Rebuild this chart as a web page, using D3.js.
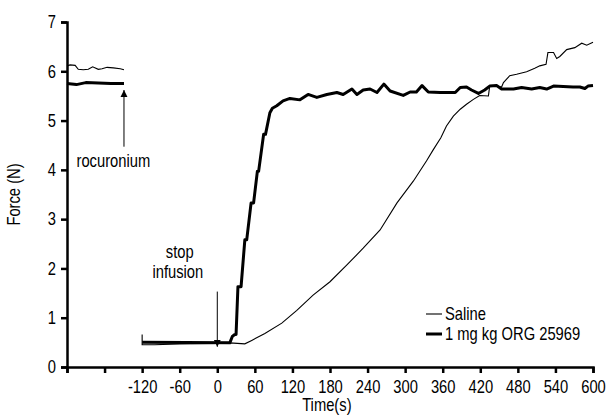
<!DOCTYPE html>
<html>
<head>
<meta charset="utf-8">
<script src="https://cdn.jsdelivr.net/npm/d3@7"></script>
<style>
  body { margin: 0; background: #fff; }
  text { font-family: "Liberation Sans", Arial, sans-serif; fill: #000; }
</style>
</head>
<body>
<div id="chart"></div>
<script>
// readings from the trace (time in s, force in N)
var salineBefore = [[-240,6.11],[-235,6.13],[-227,6.12],[-222,6.04],[-214,6.03],[-206,6.04],[-199,6.09],
  [-190,6.04],[-184,6.05],[-176,6.08],[-166,6.07],[-155,6.05],[-149,6.03]]
var orgBefore = [[-240,5.75],[-225,5.73],[-210,5.77],[-190,5.76],[-170,5.75],[-149,5.75]]

var saline = [[-120,0.66],[-120,0.45],[-100,0.45],[-60,0.47],[0,0.48],[20,0.49],[44,0.47],[55,0.54],
  [76,0.68],[103,0.89],[127,1.15],[153,1.46],[180,1.73],[207,2.07],[233,2.41],[260,2.78],[287,3.33],
  [313,3.77],[334,4.18],[345,4.41],[357,4.65],[366,4.89],[377,5.09],[388,5.23],[398,5.33],[409,5.43],
  [419,5.51],[433,5.50],[435,5.70],[446,5.70],[454,5.68],[457,5.77],[467,5.91],[478,5.94],[494,5.99],
  [507,6.06],[515,6.11],[525,6.14],[528,6.38],[537,6.38],[542,6.26],[547,6.30],[558,6.44],[571,6.48],
  [582,6.57],[590,6.53],[600,6.59]]

var org = [[-120,0.50],[20,0.49],[24,0.62],[28,0.66],[30,0.66],[33,1.63],[38,1.63],[44,2.58],[47,2.58],
  [54,3.33],[58,3.33],[64,3.97],[66,3.97],[74,4.72],[77,4.72],[84,5.16],[88,5.25],[95,5.30],[105,5.40],
  [116,5.45],[132,5.42],[145,5.53],[159,5.47],[175,5.53],[191,5.57],[201,5.53],[215,5.64],[223,5.53],
  [233,5.62],[244,5.64],[255,5.57],[266,5.74],[276,5.60],[297,5.51],[308,5.58],[318,5.58],[327,5.71],
  [337,5.58],[356,5.57],[380,5.57],[388,5.67],[398,5.68],[406,5.62],[417,5.55],[427,5.62],[435,5.70],
  [446,5.71],[454,5.64],[473,5.64],[486,5.67],[502,5.64],[515,5.67],[526,5.64],[537,5.70],[568,5.68],
  [579,5.68],[587,5.65],[592,5.70],[600,5.71]]

var xTicks = d3.range(-240, 601, 60)
var yTicks = [0, 1, 2, 3, 4, 5, 6, 7]

var margin = {top: 22, right: 14, bottom: 52, left: 67},
    width = 607 - margin.left - margin.right,
    height = 419 - margin.top - margin.bottom;

// the original uses a condensed face; squeeze the regular one
var FS = 18, SQ = 0.82;

var svg = d3.select("#chart").append("svg")
    .attr("width", 607)
    .attr("height", 419)
  .append("g")
    .attr("transform", "translate(" + margin.left + "," + margin.top + ")");

var x = d3.scaleLinear().domain([-240, 600]).range([0, width]);
var y = d3.scaleLinear().domain([0, 7]).range([height, 0]);

var line = d3.line().x(d => x(d[0])).y(d => y(d[1]));

function label(parent, px, py, txt, anchor, rot) {
  return parent.append("text")
    .attr("transform", "translate(" + px + "," + py + ")" + (rot ? " rotate(" + rot + ")" : "") + " scale(" + SQ + ",1)")
    .attr("text-anchor", anchor || "middle")
    .style("font-size", FS + "px")
    .text(txt);
}

// arrow head
svg.append("defs").append("marker")
    .attr("id", "head")
    .attr("viewBox", "0 0 10 10")
    .attr("refX", 10).attr("refY", 5)
    .attr("markerWidth", 7).attr("markerHeight", 8)
    .attr("markerUnits", "userSpaceOnUse")
    .attr("orient", "auto")
  .append("path")
    .attr("d", "M0,0 L10,5 L0,10 z")
    .attr("fill", "#000");

// thin traces (saline)
[salineBefore, saline].forEach(function(s) {
  svg.append("path").datum(s)
    .attr("d", line)
    .attr("fill", "none")
    .attr("stroke", "#000")
    .attr("stroke-width", 1.1);
});

// thick traces (ORG 25969)
[orgBefore, org].forEach(function(s) {
  svg.append("path").datum(s)
    .attr("d", line)
    .attr("fill", "none")
    .attr("stroke", "#000")
    .attr("stroke-width", 3)
    .attr("stroke-linejoin", "round");
});

// axes
var xAxis = svg.append("g")
    .attr("transform", "translate(0," + height + ")")
    .call(d3.axisBottom(x).tickValues(xTicks).tickSize(6).tickPadding(7)
      .tickFormat(d => d < -120 ? "" : d));
var yAxis = svg.append("g")
    .call(d3.axisLeft(y).tickValues(yTicks).tickSize(6).tickPadding(5).tickFormat(d3.format("d")));

[xAxis, yAxis].forEach(function(a) {
  a.select(".domain").attr("stroke-width", 2.5);
  a.selectAll(".tick line").attr("stroke-width", 2.5);
  a.selectAll("text")
    .attr("font-family", null)
    .style("font-size", FS + "px")
    .attr("x", function() { return (+d3.select(this).attr("x") || 0) / SQ; })
    .attr("transform", "scale(" + SQ + ",1)");
});

label(svg, x(175), height + 44, "Time(s)");
label(svg, -47, y(3.5), "Force (N)", "middle", -90);

// annotations
svg.append("line")
    .attr("x1", x(-149)).attr("x2", x(-149))
    .attr("y1", y(4.47)).attr("y2", y(5.62))
    .attr("stroke", "#000").attr("stroke-width", 1)
    .attr("marker-end", "url(#head)");
label(svg, x(-166), y(4.05), "rocuronium");

svg.append("line")
    .attr("x1", x(0)).attr("x2", x(0))
    .attr("y1", y(1.53)).attr("y2", y(0.41))
    .attr("stroke", "#000").attr("stroke-width", 1)
    .attr("marker-end", "url(#head)");
label(svg, x(-60), y(2.22), "stop");
label(svg, x(-63), y(1.8), "infusion");

// legend
var legend = svg.append("g").attr("transform", "translate(" + (426 - margin.left) + "," + (314 - margin.top) + ")");
[["Saline", 1.1], ["1 mg kg ORG 25969", 3]].forEach(function(d, i) {
  var g = legend.append("g").attr("transform", "translate(0," + (i * 20) + ")");
  g.append("line").attr("x1", 0).attr("x2", 16)
    .attr("stroke", "#000").attr("stroke-width", d[1]);
  label(g, 19, 6, d[0], "start");
});
</script>
</body>
</html>
